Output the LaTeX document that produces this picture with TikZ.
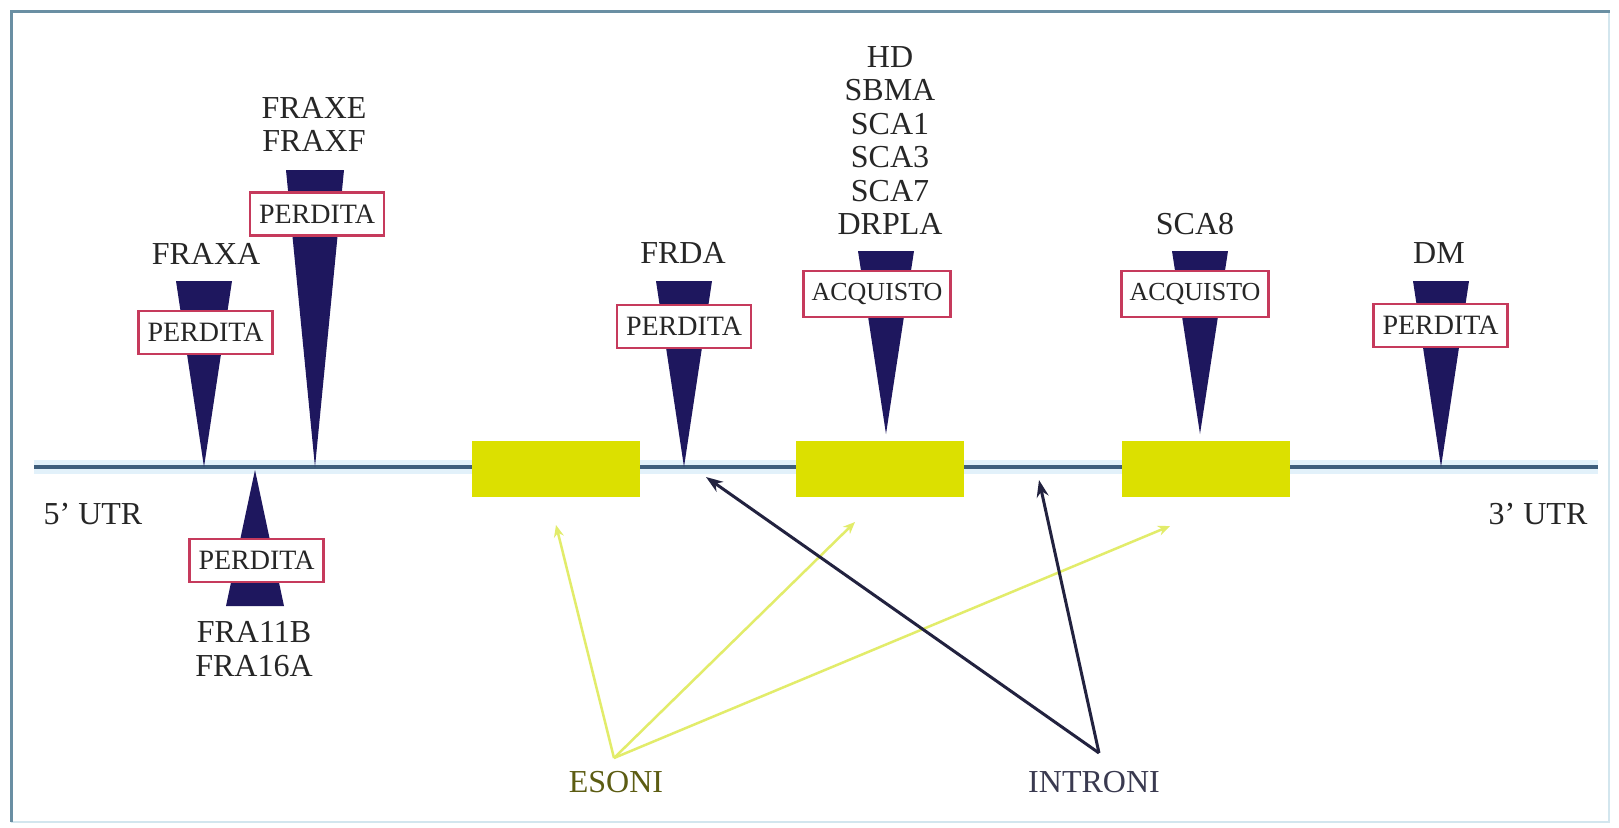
\documentclass[tikz,border=0pt]{standalone}
\usepackage{fontspec}
\setmainfont{Liberation Serif}
\usetikzlibrary{arrows.meta}

\definecolor{frameblue}{HTML}{6A8FA3}
\definecolor{framelight}{HTML}{D3E6EE}
\definecolor{geneline}{HTML}{3F5E7C}
\definecolor{genehalo}{HTML}{E2F1FA}
\definecolor{spike}{HTML}{1E175E}
\definecolor{boxred}{HTML}{C63A5C}
\definecolor{exonyel}{HTML}{DCE000}
\definecolor{arrowyel}{HTML}{E2EC6A}
\definecolor{arrownavy}{HTML}{22223F}
\definecolor{txt}{HTML}{262626}
\definecolor{esotxt}{HTML}{5C5C12}
\definecolor{intxt}{HTML}{3A3A50}

% repeat-site wedge: tip x, tip y, base y, half width of base
\newcommand\repeatwedge[4]{%
  \fill[spike] (#1-#4,#3) -- (#1+#4,#3) -- (#1,#2) -- cycle;}

\tikzset{
  lossbox/.style={draw=boxred, line width=2.8pt, fill=white, inner sep=0pt,
    minimum width=134pt, minimum height=43pt,
    font=\fontsize{28}{28}\selectfont, text=txt},
  gainbox/.style={lossbox, minimum width=147pt, minimum height=46pt,
    font=\fontsize{26}{26}\selectfont},
  lab/.style={font=\fontsize{32}{33.4}\selectfont, text=txt, align=center, inner sep=0pt},
  exon/.style={fill=exonyel, minimum width=168pt, minimum height=56pt, inner sep=0pt},
  exarrow/.style={draw=arrowyel, line width=2.5pt, -{Stealth[length=12pt,width=10pt]}},
  inarrow/.style={draw=arrownavy, line width=3pt, -{Stealth[length=17pt,width=12pt]}},
}

\begin{document}
\begin{tikzpicture}[x=1pt,y=-1pt]
\useasboundingbox (0,0) rectangle (1619,827);
\fill[white] (0,0) rectangle (1619,827);

% frame
\draw[framelight, line width=2pt] (1609,11) -- (1609,822) -- (11,822);
\draw[frameblue, line width=3pt] (11,822) -- (11,11) -- (1610,11);

% gene backbone
\draw[genehalo, line width=14pt] (34,467) -- (1598,467);
\draw[geneline, line width=3.5pt] (34,467) -- (1598,467);

% exons
\node[exon] (ex1) at (556,469) {};
\node[exon] (ex2) at (880,469) {};
\node[exon] (ex3) at (1205.5,469) {};

% repeat sites
\repeatwedge{204}{467}{281}{28}
\repeatwedge{315}{467}{170}{29}
\repeatwedge{255}{470}{606}{29}
\repeatwedge{684}{467}{281}{28}
\repeatwedge{886}{434}{251}{28}
\repeatwedge{1200}{434}{251}{28}
\repeatwedge{1441}{467}{281}{28}

% expansion effect boxes
\node[lossbox] (bFraxa) at (205.5,332.5) {PERDITA};
\node[lossbox] (bFraxe) at (317,214) {PERDITA};
\node[lossbox] (bFra11) at (256.5,560.5) {PERDITA};
\node[lossbox] (bFrda) at (684,326.5) {PERDITA};
\node[gainbox] (bHd) at (877,294) {ACQUISTO};
\node[gainbox] (bSca8) at (1195,294) {ACQUISTO};
\node[lossbox] (bDm) at (1440.5,325.5) {PERDITA};

% disease labels
\node[lab] (lFraxa) at (206,254) {FRAXA};
\node[lab] (lFraxe) at (314,124.5) {FRAXE\\FRAXF};
\node[lab] (lFra11) at (254,649) {FRA11B\\FRA16A};
\node[lab] (lFrda) at (683,253) {FRDA};
\node[lab] (lHd) at (890,140.5) {HD\\SBMA\\SCA1\\SCA3\\SCA7\\DRPLA};
\node[lab] (lSca8) at (1195,224) {SCA8};
\node[lab] (lDm) at (1439,253) {DM};

\node[lab] (utr5) at (93,514) {5' UTR};
\node[lab] (utr3) at (1538,514) {3' UTR};

% exon / intron callouts
\node[lab, text=esotxt] (esoni) at (616,782) {ESONI};
\node[lab, text=intxt] (introni) at (1094,782) {INTRONI};

\coordinate (eso) at (614,758);
\coordinate (intr) at (1099,753);
\coordinate (e1) at (556,525);
\coordinate (e2) at (855,522);
\coordinate (e3) at (1170,526);
\coordinate (i1) at (706,477);
\coordinate (i2) at (1039,480);

\draw[exarrow] (eso) -- (e1);
\draw[exarrow] (eso) -- (e2);
\draw[exarrow] (eso) -- (e3);
\draw[inarrow] (intr) -- (i1);
\draw[inarrow] (intr) -- (i2);
\end{tikzpicture}
\end{document}
